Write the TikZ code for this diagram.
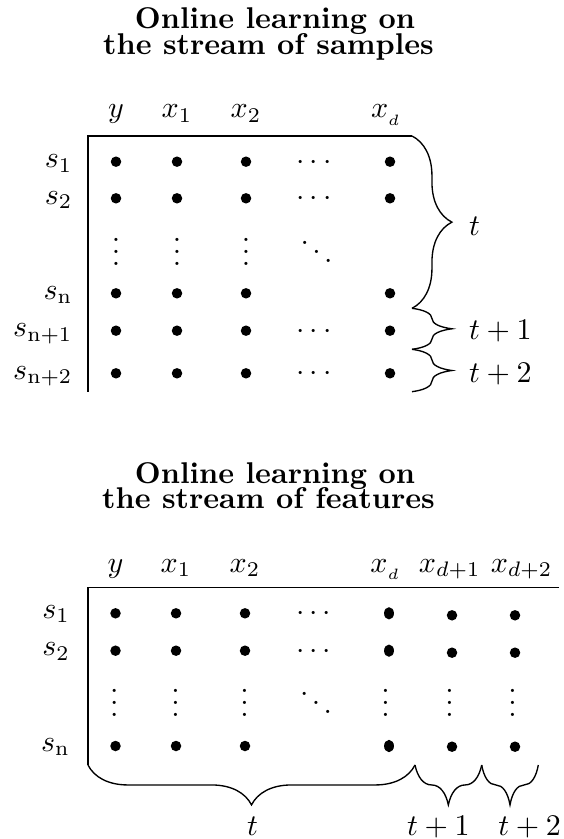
\documentclass[tikz,border=0pt]{standalone}
\usepackage{amsmath,amssymb}
\usepackage{tikz}
\usetikzlibrary{decorations.pathreplacing,shapes.geometric}
\tikzset{
  pt/.style={circle,fill=black,inner sep=0pt,minimum size=3.5pt},
  ptalto/.style={ellipse,fill=black,inner sep=0pt,minimum width=3.3pt,minimum height=4.1pt},
  marco/.style={line width=0.45pt},
  llave/.style={decorate,decoration={brace,amplitude=13.3pt},line width=0.45pt},
  llaveinf/.style={llave,decoration={mirror}},
  titulo/.style={font=\bfseries,anchor=base},
  etq/.style={anchor=base,inner sep=0pt}
}

\begin{document}
\begin{tikzpicture}[x=0.3333pt,y=-0.3333pt]
\useasboundingbox (0,0) rectangle (563,839);
% flujo de muestras
\node[titulo] (tita) at (275,29) {Online learning on};
\node[titulo] (titb) at (268.5,55) {the stream of samples};
\foreach \xc/\lab [count=\c] in {116/y,177/x_1,246/x_2,386.7/x_{_d}}
  \node[etq] (ha-\c) at (\xc,118) {$\lab$};
\foreach \yr/\lab [count=\r] in {161.7/s_1,198.3/s_2,293.3/s_{\mathrm{n}},330.7/s_{\mathrm{n}+1},373.3/s_{\mathrm{n}+2}}
  \node[etq,anchor=base east] (sa-\r) at (73,\yr+6) {$\lab$};
\foreach \yr [count=\r] in {161.7,198.3,293.3,330.7,373.3}
  \foreach \xc [count=\c] in {116,177,246,390}
    \node[pt] (pa-\r-\c) at (\xc,\yr) {};
\foreach \yr [count=\r] in {161.7,198.3,330.7,373.3}
  \node[etq] (ca-\r) at (316.5,\yr+7.5) {$\cdots$};
\foreach \xc [count=\c] in {116,177,246}
  \node[etq] (va-\c) at (\xc,265.9) {$\smash{\vdots}$};
\node[etq] (da) at (316.5,265.9) {$\smash{\ddots}$};
% marco y llaves
\coordinate (a0) at (88,136);
\coordinate (a1) at (412,136);
\coordinate (a2) at (412,308.3);
\coordinate (a3) at (412,349.3);
\coordinate (a4) at (412,391.7);
\coordinate (a5) at (88,391.7);
\draw[marco] (a5)--(a0)--(a1);
\draw[llave] (a1)--(a2);
\draw[llave] (a2)--(a3);
\draw[llave] (a3)--(a4);
\node[etq,anchor=base west] (la-1) at (468.5,236) {$t$};
\node[etq,anchor=base west] (la-2) at (468.5,340) {$t+1$};
\node[etq,anchor=base west] (la-3) at (468.5,382.5) {$t+2$};

% flujo de atributos
\node[titulo] (titc) at (275,483.3) {Online learning on};
\node[titulo] (titd) at (268.5,508.5) {the stream of features};
\foreach \xc/\lab [count=\c] in {115.5/y,176/x_1,245/x_2,386/x_{_d},449.7/x_{d+1},521.6/x_{d+2}}
  \node[etq] (hb-\c) at (\xc,572) {$\lab$};
\foreach \yr/\lab [count=\r] in {613.3/s_1,650.7/s_2,746/s_{\mathrm{n}}}
  \node[etq,anchor=base east] (sb-\r) at (70.5,\yr+5) {$\lab$};
\foreach \yr [count=\r] in {613.3,650.7,746} {
  \foreach \xc [count=\c] in {115.5,176,245}
    \node[pt] (pb-\r-\c) at (\xc,\yr) {};
  \node[ptalto] (pb-\r-4) at (389,\yr) {};
}
\foreach \yr [count=\r] in {615.3,652.7,746.7}
  \foreach \xc [count=\c from 5] in {452,515}
    \node[pt] (pb-\r-\c) at (\xc,\yr) {};
\foreach \yr [count=\r] in {613.3,650.7}
  \node[etq] (cb-\r) at (316,\yr+7.5) {$\cdots$};
\foreach \xc [count=\c] in {114.4,175.5,244.6,385.6,449.6,512.6}
  \node[etq] (vb-\c) at (\xc,716.9) {$\smash{\vdots}$};
\node[etq] (db) at (316,716.9) {$\smash{\ddots}$};
% marco y llaves
\coordinate (b0) at (88,587.3);
\coordinate (b1) at (559,587.3);
\coordinate (b2) at (88,765);
\coordinate (b3) at (415,765);
\coordinate (b4) at (481.7,765);
\coordinate (b5) at (538.3,765);
\draw[marco] (b1)--(b0)--(b2);
\draw[llaveinf] (b2)--(b3);
\draw[llaveinf] (b3)--(b4);
\draw[llaveinf] (b4)--(b5);
\node[etq] (lb-1) at (252.5,835) {$t$};
\node[etq] (lb-2) at (438.3,835) {$t+1$};
\node[etq] (lb-3) at (529.6,835) {$t+2$};
\end{tikzpicture}
\end{document}
